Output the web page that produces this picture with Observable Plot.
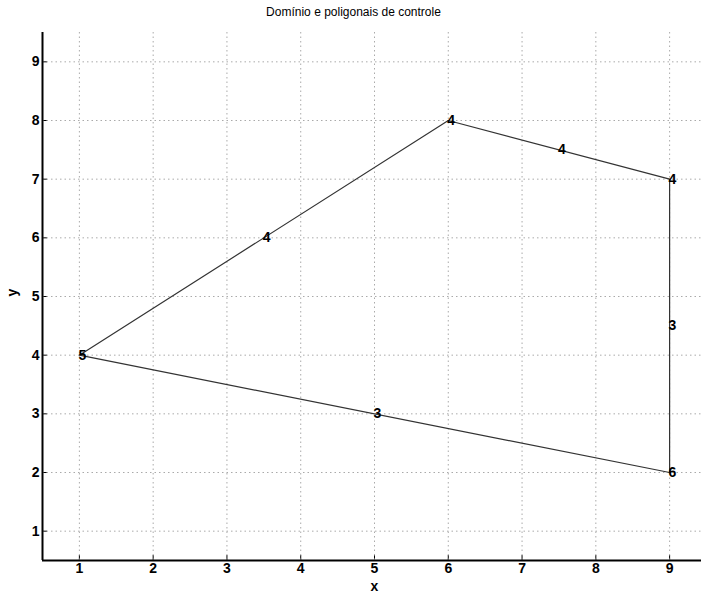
<!DOCTYPE html>
<html>
<head>
<meta charset="utf-8">
<script src="https://cdn.jsdelivr.net/npm/d3@7"></script>
<script src="https://cdn.jsdelivr.net/npm/@observablehq/plot@0.6"></script>
<style>
  body { margin: 0; background: #fff; font-family: "Liberation Sans", Arial, sans-serif; }
  #title { height: 24px; line-height: 24px; text-align: center; font-size: 12px; color: #000; width: 701px; padding-left: 6px; box-sizing: border-box; }
</style>
</head>
<body>
<div id="title">Domínio e poligonais de controle</div>
<div id="chart"></div>
<script>
// polygon vertices (closed)
const px = [1, 6, 9, 9, 1];
const py = [4, 8, 7, 2, 4];
// vertex labels
const vx = [1, 6, 9, 9];
const vy = [4, 8, 7, 2];
const vlabel = ["5", "4", "4", "6"];
// edge labels
const ex = [3.5, 7.5, 9, 5];
const ey = [6, 7.5, 4.5, 3];
const elabel = ["4", "4", "3", "3"];
// ticks
const xTicks = [1, 2, 3, 4, 5, 6, 7, 8, 9];
const yTicks = [1, 2, 3, 4, 5, 6, 7, 8, 9];

const poly = px.map((x, i) => ({x, y: py[i]}));
const verts = vx.map((x, i) => ({x, y: vy[i], t: vlabel[i]}));
const edges = ex.map((x, i) => ({x, y: ey[i], t: elabel[i]}));

const chart = Plot.plot({
  width: 701,
  height: 576,
  marginLeft: 42,
  marginRight: -5,
  marginTop: 8,
  marginBottom: 40,
  style: {fontFamily: "'Liberation Sans', Arial, sans-serif", fontSize: "14px", fontWeight: "bold", color: "#000", background: "#fff"},
  x: {domain: [0.5, 9.5], ticks: xTicks, tickSize: -5, tickPadding: 8, label: null},
  y: {domain: [0.5, 9.5], ticks: yTicks, tickSize: -5, tickPadding: 8, label: null},
  marks: [
    Plot.ruleX(xTicks, {stroke: "#aaa", strokeDasharray: "1.5,3", strokeWidth: 1}),
    Plot.ruleY(yTicks, {stroke: "#aaa", strokeDasharray: "1.5,3", strokeWidth: 1}),
    Plot.line(poly, {x: "x", y: "y", stroke: "#333", strokeWidth: 1.2}),
    Plot.text(verts, {x: "x", y: "y", text: "t", textAnchor: "start", dx: -1, fontSize: 14, fontWeight: "bold", fill: "#000"}),
    Plot.text(edges, {x: "x", y: "y", text: "t", textAnchor: "start", dx: -1, fontSize: 14, fontWeight: "bold", fill: "#000"}),
    Plot.ruleX([0.5], {stroke: "#000", strokeWidth: 2}),
    Plot.ruleY([0.5], {stroke: "#000", strokeWidth: 2}),
    Plot.text(["x"], {frameAnchor: "bottom", dy: 30, fontSize: 14, fontWeight: "bold", fill: "#000"}),
    Plot.text(["y"], {frameAnchor: "left", dx: -30, rotate: -90, fontSize: 14, fontWeight: "bold", fill: "#000"})
  ]
});
document.getElementById("chart").appendChild(chart);
</script>
</body>
</html>
